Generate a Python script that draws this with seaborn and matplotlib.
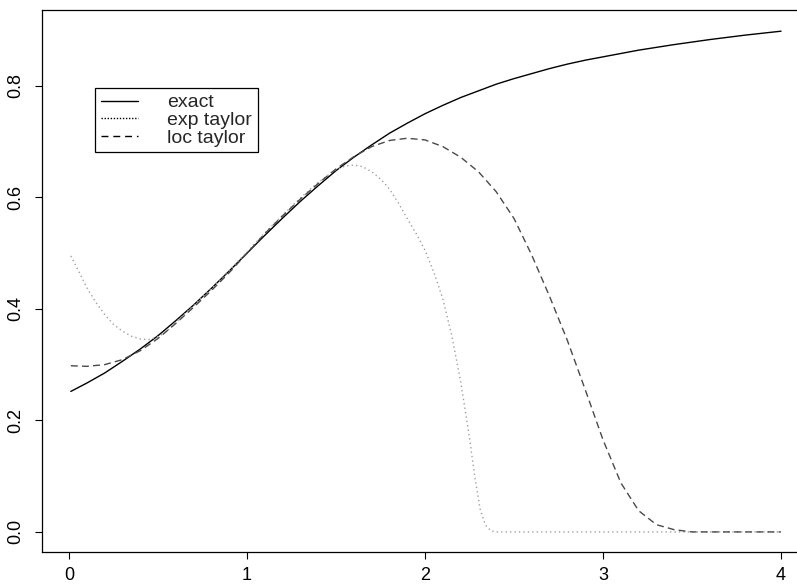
import matplotlib
matplotlib.use("Agg")
import matplotlib.pyplot as plt
from matplotlib.lines import Line2D
import seaborn as sns

# exact curve
x_exact = [0.01, 0.1, 0.2, 0.3, 0.4, 0.5, 0.6, 0.7, 0.8, 0.9, 1.0, 1.1, 1.2, 1.3, 1.4,
           1.5, 1.6, 1.7, 1.8, 1.9, 2.0, 2.1, 2.2, 2.3, 2.4, 2.5, 2.6, 2.7, 2.8, 2.9,
           3.0, 3.2, 3.4, 3.6, 3.8, 4.0]
y_exact = [0.252, 0.267, 0.285, 0.306, 0.328, 0.352, 0.379, 0.407, 0.437, 0.468, 0.500,
           0.532, 0.563, 0.593, 0.621, 0.648, 0.672, 0.694, 0.715, 0.733, 0.750, 0.765,
           0.779, 0.791, 0.803, 0.813, 0.822, 0.831, 0.839, 0.846, 0.852, 0.864, 0.874,
           0.883, 0.891, 0.898]

# exp taylor
x_exp = [0.01, 0.05, 0.1, 0.15, 0.2, 0.25, 0.3, 0.35, 0.4, 0.45, 0.5, 0.55, 0.6, 0.7,
         0.8, 0.9, 1.0, 1.1, 1.2, 1.3, 1.4, 1.5, 1.55, 1.6, 1.65, 1.7, 1.75, 1.8, 1.85,
         1.9, 1.95, 2.0, 2.05, 2.1, 2.15, 2.2, 2.25, 2.28, 2.31, 2.34, 2.37, 2.4, 3.0, 4.0]
y_exp = [0.495, 0.470, 0.438, 0.412, 0.390, 0.372, 0.360, 0.351, 0.346, 0.345, 0.350,
         0.360, 0.376, 0.406, 0.437, 0.469, 0.502, 0.536, 0.568, 0.599, 0.627, 0.650,
         0.656, 0.658, 0.655, 0.646, 0.633, 0.615, 0.590, 0.562, 0.535, 0.505, 0.465,
         0.418, 0.352, 0.270, 0.168, 0.098, 0.040, 0.012, 0.002, 0.0, 0.0, 0.0]

# loc taylor
x_loc = [0.01, 0.1, 0.2, 0.3, 0.4, 0.5, 0.6, 0.7, 0.8, 0.9, 1.0, 1.1, 1.2, 1.3, 1.4,
         1.5, 1.6, 1.7, 1.8, 1.9, 2.0, 2.1, 2.2, 2.3, 2.4, 2.5, 2.6, 2.7, 2.8, 2.9,
         3.0, 3.1, 3.2, 3.3, 3.4, 3.5, 4.0]
y_loc = [0.298, 0.297, 0.300, 0.309, 0.325, 0.347, 0.374, 0.403, 0.433, 0.465, 0.500,
         0.535, 0.567, 0.597, 0.625, 0.651, 0.673, 0.691, 0.702, 0.706, 0.703, 0.691,
         0.672, 0.646, 0.610, 0.562, 0.496, 0.422, 0.343, 0.255, 0.165, 0.088, 0.038,
         0.013, 0.004, 0.0, 0.0]

labels = ["exact", "exp taylor", "loc taylor"]
x_ticks = [0, 1, 2, 3, 4]
y_ticks = [0.0, 0.2, 0.4, 0.6, 0.8]

sns.set_theme(style="ticks")
plt.rcParams["font.family"] = ["Liberation Sans", "DejaVu Sans"]

W, H = 797, 584
fig = plt.figure(figsize=(W / 100, H / 100), dpi=100)
# plot region runs past the right edge like the original
ax = fig.add_axes([42 / W, (H - 552) / H, (809 - 42) / W, (552 - 10) / H])

dotted = (0, (1, 2.2))
dashed = (0, (5, 3))

sns.lineplot(x=x_exact, y=y_exact, ax=ax, color="black", linewidth=1.0)
sns.lineplot(x=x_exp, y=y_exp, ax=ax, color="#a0a0a0", linewidth=1.0, linestyle=dotted)
sns.lineplot(x=x_loc, y=y_loc, ax=ax, color="#4a4a4a", linewidth=1.0, linestyle=dashed)

ax.set_xlim(-0.152, 4.157)
ax.set_ylim(-0.036, 0.936)
ax.set_xticks(x_ticks)
ax.set_xticklabels([str(t) for t in x_ticks])
ax.set_yticks(y_ticks)
ax.set_yticklabels([f"{t:.1f}" for t in y_ticks], rotation=90, va="center")
ax.tick_params(axis="both", direction="out", length=5, width=0.8, colors="black",
               labelsize=13)
ax.tick_params(axis="x", pad=6)
ax.tick_params(axis="y", pad=8)
ax.set_xlabel("")
ax.set_ylabel("")
for s in ax.spines.values():
    s.set_visible(True)
    s.set_color("black")
    s.set_linewidth(0.9)

handles = [Line2D([], [], color="black", lw=1.0),
           Line2D([], [], color="black", lw=1.0, linestyle=(0, (1, 1.2))),
           Line2D([], [], color="black", lw=1.0, linestyle=(0, (5, 3.5)))]
leg = ax.legend(handles, labels, loc="upper left",
                bbox_to_anchor=(95 / W, 1 - 88 / H), bbox_transform=fig.transFigure,
                fontsize=14, frameon=True, fancybox=False, shadow=False,
                edgecolor="black", framealpha=1, borderaxespad=0,
                borderpad=0.3, labelspacing=0.0, handlelength=1.9,
                handletextpad=1.5)
leg.get_frame().set_linewidth(0.9)

fig.savefig("out.png", dpi=100)
